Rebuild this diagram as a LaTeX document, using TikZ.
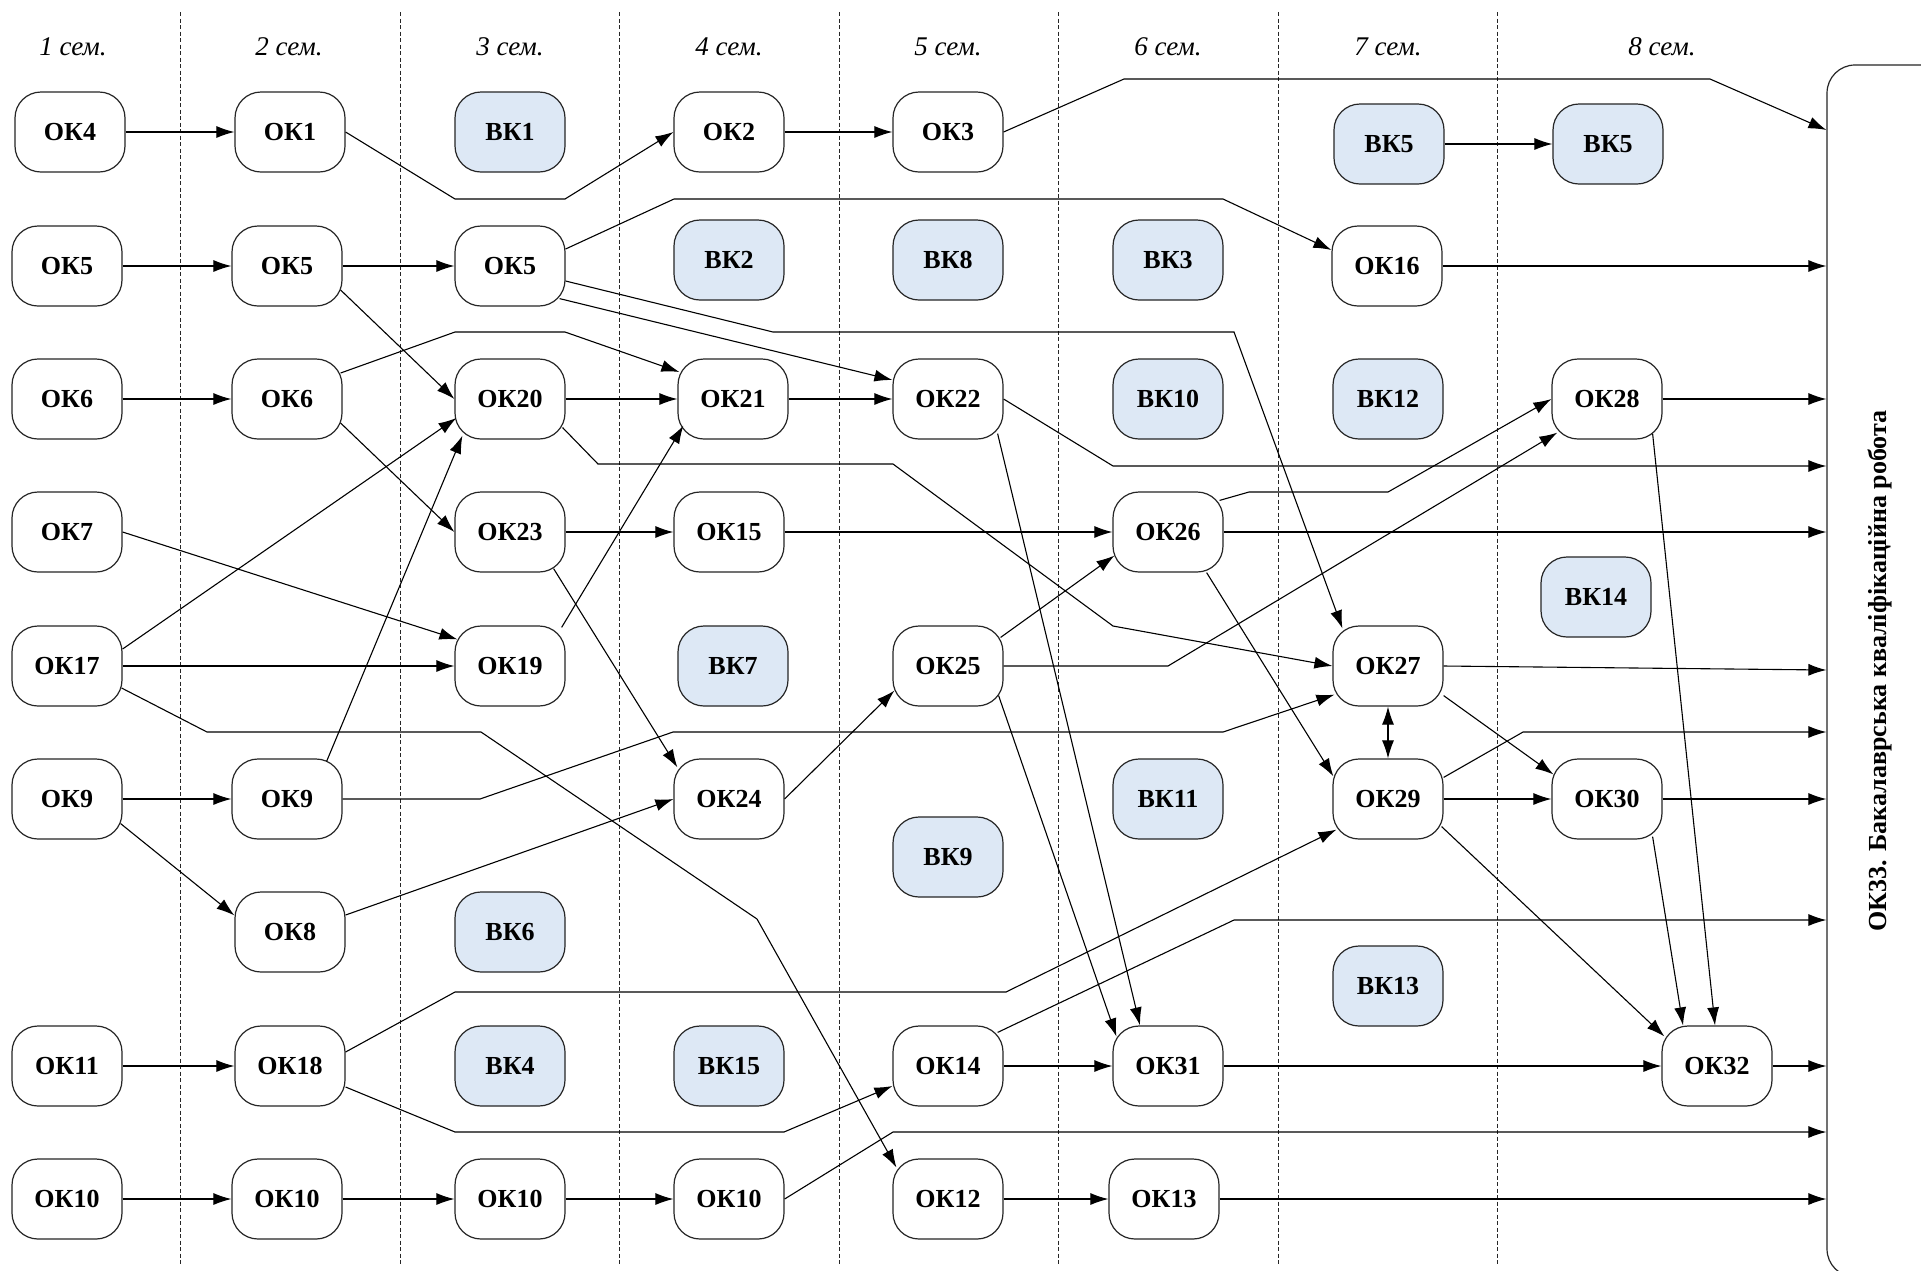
\documentclass[tikz,border=0pt]{standalone}
\usepackage{fontspec}
\setmainfont{Liberation Serif}
\usetikzlibrary{arrows.meta,calc}
\definecolor{vkblue}{RGB}{221,232,245}
\begin{document}
\begin{tikzpicture}[x=1pt,y=-1pt,
  box/.style={draw=black!85, line width=1.2pt, rounded corners=26pt,
    minimum width=110pt, minimum height=80pt, inner sep=0pt,
    font=\fontsize{26}{30}\selectfont\bfseries},
  okbox/.style={box, fill=white},
  vkbox/.style={box, fill=vkblue},
  link/.style={line width=1.1pt, black, -{Latex[length=18pt,width=12pt]}},
  both/.style={line width=1.1pt, black, {Latex[length=18pt,width=12pt]}-{Latex[length=18pt,width=12pt]}},
  sep/.style={line width=1pt, black!85, dash pattern=on 4pt off 2.5pt},
  sem/.style={font=\fontsize{27}{31}\selectfont\itshape}
]
\useasboundingbox (0,0) rectangle (1921,1270);
\fill[white] (0,0) rectangle (1921,1270);

% semester separators
\foreach \sx in {180,400,619,839,1058,1278,1497}
  \draw[sep] (\sx,12) -- (\sx,1266);

% semester headings
\node[sem] (s1) at (73,47) {1 сем.};
\node[sem] (s2) at (289,47) {2 сем.};
\node[sem] (s3) at (510,47) {3 сем.};
\node[sem] (s4) at (729,47) {4 сем.};
\node[sem] (s5) at (948,47) {5 сем.};
\node[sem] (s6) at (1168,47) {6 сем.};
\node[sem] (s7) at (1388,47) {7 сем.};
\node[sem] (s8) at (1662,47) {8 сем.};

% final component
\node[draw=black!85, line width=1.2pt, rounded corners=28pt,
      minimum width=200pt, minimum height=1212pt] (big) at (1927,671) {};
\node[rotate=90, font=\fontsize{26}{30}\selectfont\bfseries] (bigtext) at (1880,671)
  {ОК33. Бакалаврська кваліфікаційна робота};

% row 1
\node[okbox] (ok4) at (70,132) {ОК4};
\node[okbox] (ok1) at (290,132) {ОК1};
\node[vkbox] (vk1) at (510,132) {ВК1};
\node[okbox] (ok2) at (729,132) {ОК2};
\node[okbox] (ok3) at (948,132) {ОК3};
\node[vkbox] (vk5a) at (1389,144) {ВК5};
\node[vkbox] (vk5b) at (1608,144) {ВК5};
% row 2
\node[okbox] (ok5a) at (67,266) {ОК5};
\node[okbox] (ok5b) at (287,266) {ОК5};
\node[okbox] (ok5c) at (510,266) {ОК5};
\node[vkbox] (vk2) at (729,260) {ВК2};
\node[vkbox] (vk8) at (948,260) {ВК8};
\node[vkbox] (vk3) at (1168,260) {ВК3};
\node[okbox] (ok16) at (1387,266) {ОК16};
% row 3
\node[okbox] (ok6a) at (67,399) {ОК6};
\node[okbox] (ok6b) at (287,399) {ОК6};
\node[okbox] (ok20) at (510,399) {ОК20};
\node[okbox] (ok21) at (733,399) {ОК21};
\node[okbox] (ok22) at (948,399) {ОК22};
\node[vkbox] (vk10) at (1168,399) {ВК10};
\node[vkbox] (vk12) at (1388,399) {ВК12};
\node[okbox] (ok28) at (1607,399) {ОК28};
% row 4
\node[okbox] (ok7) at (67,532) {ОК7};
\node[okbox] (ok23) at (510,532) {ОК23};
\node[okbox] (ok15) at (729,532) {ОК15};
\node[okbox] (ok26) at (1168,532) {ОК26};
\node[vkbox] (vk14) at (1596,597) {ВК14};
% row 5
\node[okbox] (ok17) at (67,666) {ОК17};
\node[okbox] (ok19) at (510,666) {ОК19};
\node[vkbox] (vk7) at (733,666) {ВК7};
\node[okbox] (ok25) at (948,666) {ОК25};
\node[okbox] (ok27) at (1388,666) {ОК27};
% row 6
\node[okbox] (ok9a) at (67,799) {ОК9};
\node[okbox] (ok9b) at (287,799) {ОК9};
\node[okbox] (ok24) at (729,799) {ОК24};
\node[vkbox] (vk9) at (948,857) {ВК9};
\node[vkbox] (vk11) at (1168,799) {ВК11};
\node[okbox] (ok29) at (1388,799) {ОК29};
\node[okbox] (ok30) at (1607,799) {ОК30};
% row 7
\node[okbox] (ok8) at (290,932) {ОК8};
\node[vkbox] (vk6) at (510,932) {ВК6};
\node[vkbox] (vk13) at (1388,986) {ВК13};
% row 8
\node[okbox] (ok11) at (67,1066) {ОК11};
\node[okbox] (ok18) at (290,1066) {ОК18};
\node[vkbox] (vk4) at (510,1066) {ВК4};
\node[vkbox] (vk15) at (729,1066) {ВК15};
\node[okbox] (ok14) at (948,1066) {ОК14};
\node[okbox] (ok31) at (1168,1066) {ОК31};
\node[okbox] (ok32) at (1717,1066) {ОК32};
% row 9
\node[okbox] (ok10a) at (67,1199) {ОК10};
\node[okbox] (ok10b) at (287,1199) {ОК10};
\node[okbox] (ok10c) at (510,1199) {ОК10};
\node[okbox] (ok10d) at (729,1199) {ОК10};
\node[okbox] (ok12) at (948,1199) {ОК12};
\node[okbox] (ok13) at (1164,1199) {ОК13};

% prerequisites
\draw[link] (ok4.east) -- (ok1.west);
\draw[link] (ok1.east) -- (455,199) -- (565,199) -- (ok2.west);
\draw[link] (ok2.east) -- (ok3.west);
\draw[link] (ok3.east) -- (1124,79) -- (1710,79) -- (big.west |- 0,130);
\draw[link] (vk5a.east) -- (vk5b.west);

\draw[link] (ok5a.east) -- (ok5b.west);
\draw[link] (ok5b.east) -- (ok5c.west);
\draw[link] ([shift={(-2,24)}]ok5b.east) -- (ok20.west);
\draw[link] ([shift={(0,-17)}]ok5c.east) -- (674,199) -- (1223,199) -- ([shift={(0,-16)}]ok16.west);
\draw[link] ([shift={(-6,-8)}]ok5c.south east) -- ([shift={(0,-19)}]ok22.west);
\draw[link] ([shift={(0,15)}]ok5c.east) -- (773,332) -- (1234,332) -- ([shift={(10,3)}]ok27.north west);
\draw[link] (ok16.east) -- (big.west |- ok16);

\draw[link] (ok6a.east) -- (ok6b.west);
\draw[link] ([shift={(-2,-26)}]ok6b.east) -- (455,332) -- (565,332) -- ([shift={(2,-27)}]ok21.west);
\draw[link] ([shift={(-2,24)}]ok6b.east) -- (ok23.west);
\draw[link] (ok20.east) -- (ok21.west);
\draw[link] (ok21.east) -- (ok22.west);
\draw[link] ([shift={(-3,-12)}]ok20.south east) -- (598,464) -- (893,464) -- (1113,626) -- (ok27.west);
\draw[link] (ok22.east) -- (1113,466) -- (big.west |- 0,466);
\draw[link] ([shift={(-6,-6)}]ok22.south east) -- ([shift={(-28,0)}]ok31.north);
\draw[link] ([shift={(-5,-11)}]ok25.south east) -- ([shift={(4,11)}]ok31.north west);
\draw[link] (ok28.east) -- (big.west |- ok28);
\draw[link] ([shift={(-10,-6)}]ok28.south east) -- ([shift={(-2,0)}]ok32.north);
\draw[link] ([shift={(-10,-3)}]ok30.south east) -- ([shift={(-34,0)}]ok32.north);

\draw[link] (ok7.east) -- ([shift={(3,14)}]ok19.north west);
\draw[link] (ok23.east) -- (ok15.west);
\draw[link] (ok15.east) -- (ok26.west);
\draw[link] (ok26.east) -- (big.west |- ok26);
\draw[link] ([shift={(-12,-4)}]ok23.south east) -- ([shift={(4,9)}]ok24.north west);
\draw[link] ([shift={(-4,2)}]ok19.north east) -- ([shift={(6,-14)}]ok21.south west);
\draw[link] ([shift={(-4,9)}]ok26.north east) -- (1249,492) -- (1388,492) -- (ok28.west);
\draw[link] (ok25.east) -- (1168,666) -- ([shift={(6,-7)}]ok28.south west);
\draw[link] ([shift={(-17,0)}]ok26.south east) -- ([shift={(1,18)}]ok29.north west);
\draw[link] (ok27.east) -- (big.west |- 0,670);
\draw[both] (ok27.south) -- (ok29.north);
\draw[link] ([shift={(0,-11)}]ok27.south east) -- ([shift={(2,16)}]ok30.north west);

\draw[link] ([shift={(0,-17)}]ok17.east) -- ([shift={(2,19)}]ok20.west);
\draw[link] (ok17.east) -- (ok19.west);
\draw[link] ([shift={(-1,22)}]ok17.east) -- (207,732) -- (481,732) -- (757,919) -- ([shift={(4,9)}]ok12.north west);
\draw[link] ([shift={(-3,12)}]ok25.north east) -- ([shift={(2,-17)}]ok26.south west);
\draw[link] (ok24.east) -- ([shift={(2,-16)}]ok25.south west);

\draw[link] (ok9a.east) -- (ok9b.west);
\draw[link] ([shift={(-2,-16)}]ok9a.south east) -- ([shift={(0,24)}]ok8.north west);
\draw[link] ([shift={(-16,3)}]ok9b.north east) -- ([shift={(8,-4)}]ok20.south west);
\draw[link] (ok9b.east) -- (480,799) -- (673,732) -- (1223,732) -- ([shift={(2,-12)}]ok27.south west);
\draw[link] (ok29.east) -- (ok30.west);
\draw[link] (ok30.east) -- (big.west |- ok30);
\draw[link] ([shift={(0,19)}]ok29.north east) -- (1523,732) -- (big.west |- 0,732);
\draw[link] ([shift={(-2,-13)}]ok29.south east) -- ([shift={(3,11)}]ok32.north west);

\draw[link] ([shift={(0,-17)}]ok8.east) -- (ok24.west);
\draw[link] ([shift={(0,-14)}]ok18.east) -- (455,992) -- (1006,992) -- ([shift={(4,-10)}]ok29.south west);
\draw[link] ([shift={(-6,7)}]ok14.north east) -- (1234,920) -- (big.west |- 0,920);

\draw[link] (ok11.east) -- (ok18.west);
\draw[link] ([shift={(0,21)}]ok18.east) -- (455,1132) -- (784,1132) -- ([shift={(0,20)}]ok14.west);
\draw[link] (ok14.east) -- (ok31.west);
\draw[link] (ok31.east) -- (ok32.west);
\draw[link] (ok32.east) -- (big.west |- ok32);
\draw[link] (ok10d.east) -- (893,1132) -- (big.west |- 0,1132);

\draw[link] (ok10a.east) -- (ok10b.west);
\draw[link] (ok10b.east) -- (ok10c.west);
\draw[link] (ok10c.east) -- (ok10d.west);
\draw[link] (ok12.east) -- (ok13.west);
\draw[link] (ok13.east) -- (big.west |- ok13);
\end{tikzpicture}
\end{document}
